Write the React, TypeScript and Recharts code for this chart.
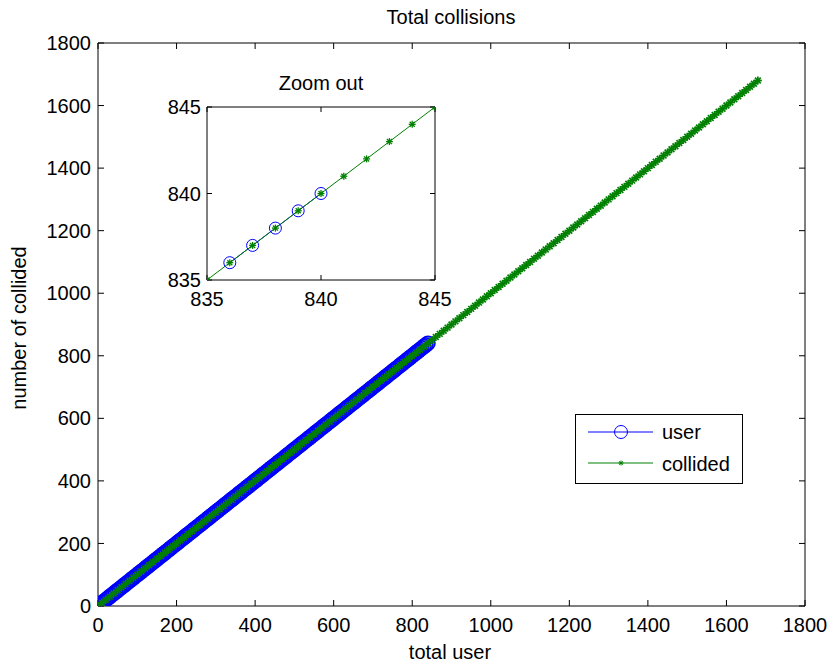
import React from 'react';
import { ComposedChart, Line, XAxis, YAxis } from 'recharts';

// ---- data ----
const userTotal = [
  0, 5, 10, 15, 20, 25, 30, 35, 40, 45, 50, 55, 60, 65, 70, 75, 80, 85, 90, 95,
  100, 105, 110, 115, 120, 125, 130, 135, 140, 145, 150, 155, 160, 165, 170, 175, 180, 185, 190, 195,
  200, 205, 210, 215, 220, 225, 230, 235, 240, 245, 250, 255, 260, 265, 270, 275, 280, 285, 290, 295,
  300, 305, 310, 315, 320, 325, 330, 335, 340, 345, 350, 355, 360, 365, 370, 375, 380, 385, 390, 395,
  400, 405, 410, 415, 420, 425, 430, 435, 440, 445, 450, 455, 460, 465, 470, 475, 480, 485, 490, 495,
  500, 505, 510, 515, 520, 525, 530, 535, 540, 545, 550, 555, 560, 565, 570, 575, 580, 585, 590, 595,
  600, 605, 610, 615, 620, 625, 630, 635, 640, 645, 650, 655, 660, 665, 670, 675, 680, 685, 690, 695,
  700, 705, 710, 715, 720, 725, 730, 735, 740, 745, 750, 755, 760, 765, 770, 775, 780, 785, 790, 795,
  800, 805, 810, 815, 820, 825, 830, 835, 840,
];
const userCollided = [
  0, 5, 10, 15, 20, 25, 30, 35, 40, 45, 50, 55, 60, 65, 70, 75, 80, 85, 90, 95,
  100, 105, 110, 115, 120, 125, 130, 135, 140, 145, 150, 155, 160, 165, 170, 175, 180, 185, 190, 195,
  200, 205, 210, 215, 220, 225, 230, 235, 240, 245, 250, 255, 260, 265, 270, 275, 280, 285, 290, 295,
  300, 305, 310, 315, 320, 325, 330, 335, 340, 345, 350, 355, 360, 365, 370, 375, 380, 385, 390, 395,
  400, 405, 410, 415, 420, 425, 430, 435, 440, 445, 450, 455, 460, 465, 470, 475, 480, 485, 490, 495,
  500, 505, 510, 515, 520, 525, 530, 535, 540, 545, 550, 555, 560, 565, 570, 575, 580, 585, 590, 595,
  600, 605, 610, 615, 620, 625, 630, 635, 640, 645, 650, 655, 660, 665, 670, 675, 680, 685, 690, 695,
  700, 705, 710, 715, 720, 725, 730, 735, 740, 745, 750, 755, 760, 765, 770, 775, 780, 785, 790, 795,
  800, 805, 810, 815, 820, 825, 830, 835, 840,
];
const collidedTotal = [
  0, 10, 20, 30, 40, 50, 60, 70, 80, 90, 100, 110, 120, 130, 140, 150, 160, 170, 180, 190,
  200, 210, 220, 230, 240, 250, 260, 270, 280, 290, 300, 310, 320, 330, 340, 350, 360, 370, 380, 390,
  400, 410, 420, 430, 440, 450, 460, 470, 480, 490, 500, 510, 520, 530, 540, 550, 560, 570, 580, 590,
  600, 610, 620, 630, 640, 650, 660, 670, 680, 690, 700, 710, 720, 730, 740, 750, 760, 770, 780, 790,
  800, 810, 820, 830, 840, 850, 860, 870, 880, 890, 900, 910, 920, 930, 940, 950, 960, 970, 980, 990,
  1000, 1010, 1020, 1030, 1040, 1050, 1060, 1070, 1080, 1090, 1100, 1110, 1120, 1130, 1140, 1150, 1160, 1170, 1180, 1190,
  1200, 1210, 1220, 1230, 1240, 1250, 1260, 1270, 1280, 1290, 1300, 1310, 1320, 1330, 1340, 1350, 1360, 1370, 1380, 1390,
  1400, 1410, 1420, 1430, 1440, 1450, 1460, 1470, 1480, 1490, 1500, 1510, 1520, 1530, 1540, 1550, 1560, 1570, 1580, 1590,
  1600, 1610, 1620, 1630, 1640, 1650, 1660, 1670, 1680,
];
const collidedCount = [
  0, 10, 20, 30, 40, 50, 60, 70, 80, 90, 100, 110, 120, 130, 140, 150, 160, 170, 180, 190,
  200, 210, 220, 230, 240, 250, 260, 270, 280, 290, 300, 310, 320, 330, 340, 350, 360, 370, 380, 390,
  400, 410, 420, 430, 440, 450, 460, 470, 480, 490, 500, 510, 520, 530, 540, 550, 560, 570, 580, 590,
  600, 610, 620, 630, 640, 650, 660, 670, 680, 690, 700, 710, 720, 730, 740, 750, 760, 770, 780, 790,
  800, 810, 820, 830, 840, 850, 860, 870, 880, 890, 900, 910, 920, 930, 940, 950, 960, 970, 980, 990,
  1000, 1010, 1020, 1030, 1040, 1050, 1060, 1070, 1080, 1090, 1100, 1110, 1120, 1130, 1140, 1150, 1160, 1170, 1180, 1190,
  1200, 1210, 1220, 1230, 1240, 1250, 1260, 1270, 1280, 1290, 1300, 1310, 1320, 1330, 1340, 1350, 1360, 1370, 1380, 1390,
  1400, 1410, 1420, 1430, 1440, 1450, 1460, 1470, 1480, 1490, 1500, 1510, 1520, 1530, 1540, 1550, 1560, 1570, 1580, 1590,
  1600, 1610, 1620, 1630, 1640, 1650, 1660, 1670, 1680,
];

const zoomUserTotal = [836, 837, 838, 839, 840];
const zoomUserCollided = [836, 837, 838, 839, 840];
const zoomCollidedTotal = [835, 836, 837, 838, 839, 840, 841, 842, 843, 844, 845];
const zoomCollidedCount = [835, 836, 837, 838, 839, 840, 841, 842, 843, 844, 845];

const mainTicks = [0, 200, 400, 600, 800, 1000, 1200, 1400, 1600, 1800];
const zoomTicks = [835, 840, 845];

const titleText = 'Total collisions';
const xLabelText = 'total user';
const yLabelText = 'number of collided';
const zoomTitleText = 'Zoom out';
const legendNames = ['user', 'collided'];

// ---- styling ----
const W = 829;
const H = 664;
const BLUE = '#0000ff';
const GREEN = '#008000';
const FONT = '"Liberation Sans", Arial, Helvetica, sans-serif';

const userRows = userTotal.map((x, i) => ({ x, y: userCollided[i] }));
const collidedRows = collidedTotal.map((x, i) => ({ x, y: collidedCount[i] }));
const zoomUserRows = zoomUserTotal.map((x, i) => ({ x, y: zoomUserCollided[i] }));
const zoomCollidedRows = zoomCollidedTotal.map((x, i) => ({ x, y: zoomCollidedCount[i] }));

const circleDot = (r: number, w: number) => (p: any) => (
  <circle key={`c-${p.index}`} cx={p.cx} cy={p.cy} r={r} fill="none" stroke={BLUE} strokeWidth={w} />
);

const Asterisk = ({ cx, cy, a, w = 1 }: { cx: number; cy: number; a: number; w?: number }) => {
  const d = a * 0.72;
  return (
    <g stroke={GREEN} strokeWidth={w}>
      <line x1={cx - a} y1={cy} x2={cx + a} y2={cy} />
      <line x1={cx} y1={cy - a} x2={cx} y2={cy + a} />
      <line x1={cx - d} y1={cy - d} x2={cx + d} y2={cy + d} />
      <line x1={cx - d} y1={cy + d} x2={cx + d} y2={cy - d} />
    </g>
  );
};

const starDot = (a: number, w: number) => (p: any) => (
  <Asterisk key={`s-${p.index}`} cx={p.cx} cy={p.cy} a={a} w={w} />
);

const tickStyle = { fill: '#000', fontSize: 20, fontFamily: FONT };

export default function App() {
  return (
    <div
      style={{
        position: 'absolute',
        left: 0,
        top: 0,
        width: W,
        height: H,
        background: '#fff',
        fontFamily: FONT,
      }}
    >
      <div style={{ position: 'absolute', left: 0, top: 0 }}>
        <ComposedChart width={W} height={H} margin={{ top: 33, right: 14, bottom: 28, left: 38 }}>
          <XAxis
            xAxisId="b"
            type="number"
            dataKey="x"
            domain={[0, 1800]}
            ticks={mainTicks}
            interval={0}
            height={30}
            tickSize={-6}
            tickMargin={18}
            stroke="#000"
            tick={tickStyle}
            allowDataOverflow
          />
          <XAxis
            xAxisId="t"
            orientation="top"
            type="number"
            dataKey="x"
            domain={[0, 1800]}
            ticks={mainTicks}
            interval={0}
            height={10}
            tickSize={-6}
            stroke="#000"
            tickFormatter={() => ''}
            allowDataOverflow
          />
          <YAxis
            yAxisId="l"
            type="number"
            dataKey="y"
            domain={[0, 1800]}
            ticks={mainTicks}
            interval={0}
            width={60}
            tickSize={-6}
            tickMargin={13}
            stroke="#000"
            tick={tickStyle}
            allowDataOverflow
          />
          <YAxis
            yAxisId="r"
            orientation="right"
            type="number"
            dataKey="y"
            domain={[0, 1800]}
            ticks={mainTicks}
            interval={0}
            width={10}
            tickSize={-6}
            stroke="#000"
            tickFormatter={() => ''}
            allowDataOverflow
          />
          <Line
            xAxisId="b"
            yAxisId="l"
            data={userRows}
            dataKey="y"
            stroke={BLUE}
            strokeWidth={1}
            dot={circleDot(7, 1.7)}
            isAnimationActive={false}
          />
          <Line
            xAxisId="b"
            yAxisId="l"
            data={collidedRows}
            dataKey="y"
            stroke={GREEN}
            strokeWidth={1}
            dot={starDot(4, 1.7)}
            isAnimationActive={false}
          />
        </ComposedChart>
      </div>

      {/* inset axes */}
      <div style={{ position: 'absolute', left: 150, top: 60 }}>
        <ComposedChart width={320} height={260} margin={{ top: 37, right: 25, bottom: 10, left: 17 }}>
          <XAxis
            xAxisId="b"
            type="number"
            dataKey="x"
            domain={[835, 845]}
            ticks={zoomTicks}
            interval={0}
            height={30}
            tickSize={-5}
            tickMargin={17}
            stroke="#000"
            tick={tickStyle}
            allowDataOverflow
          />
          <XAxis
            xAxisId="t"
            orientation="top"
            type="number"
            dataKey="x"
            domain={[835, 845]}
            ticks={zoomTicks}
            interval={0}
            height={10}
            tickSize={-5}
            stroke="#000"
            tickFormatter={() => ''}
            allowDataOverflow
          />
          <YAxis
            yAxisId="l"
            type="number"
            dataKey="y"
            domain={[835, 845]}
            ticks={zoomTicks}
            interval={0}
            width={40}
            tickSize={-5}
            tickMargin={11}
            stroke="#000"
            tick={tickStyle}
            allowDataOverflow
          />
          <YAxis
            yAxisId="r"
            orientation="right"
            type="number"
            dataKey="y"
            domain={[835, 845]}
            ticks={zoomTicks}
            interval={0}
            width={10}
            tickSize={-5}
            stroke="#000"
            tickFormatter={() => ''}
            allowDataOverflow
          />
          <Line
            xAxisId="b"
            yAxisId="l"
            data={zoomUserRows}
            dataKey="y"
            stroke={BLUE}
            strokeWidth={1}
            dot={circleDot(6, 1)}
            isAnimationActive={false}
          />
          <Line
            xAxisId="b"
            yAxisId="l"
            data={zoomCollidedRows}
            dataKey="y"
            stroke={GREEN}
            strokeWidth={1}
            dot={starDot(3.5, 1.3)}
            isAnimationActive={false}
          />
        </ComposedChart>
      </div>

      {/* texts and legend */}
      <svg
        width={W}
        height={H}
        style={{ position: 'absolute', left: 0, top: 0, pointerEvents: 'none' }}
        fontFamily={FONT}
        fontSize={20}
      >
        <text x={451} y={24} textAnchor="middle" fill="#000">
          {titleText}
        </text>
        <text x={450} y={659} textAnchor="middle" fill="#000">
          {xLabelText}
        </text>
        <text x={0} y={0} transform="translate(26,328) rotate(-90)" textAnchor="middle" fill="#000">
          {yLabelText}
        </text>
        <text x={321} y={90} textAnchor="middle" fill="#000">
          {zoomTitleText}
        </text>

        <rect x={575.5} y={414.5} width={167} height={69} fill="#fff" stroke="#000" strokeWidth={1} />
        <line x1={588} y1={432} x2={653} y2={432} stroke={BLUE} strokeWidth={1} />
        <circle cx={621} cy={432} r={6.5} fill="none" stroke={BLUE} strokeWidth={1} />
        <text x={662} y={439} fill="#000">
          {legendNames[0]}
        </text>
        <line x1={588} y1={463} x2={653} y2={463} stroke={GREEN} strokeWidth={1} />
        <Asterisk cx={621} cy={463} a={2.5} />
        <text x={662} y={471} fill="#000">
          {legendNames[1]}
        </text>
      </svg>
    </div>
  );
}
